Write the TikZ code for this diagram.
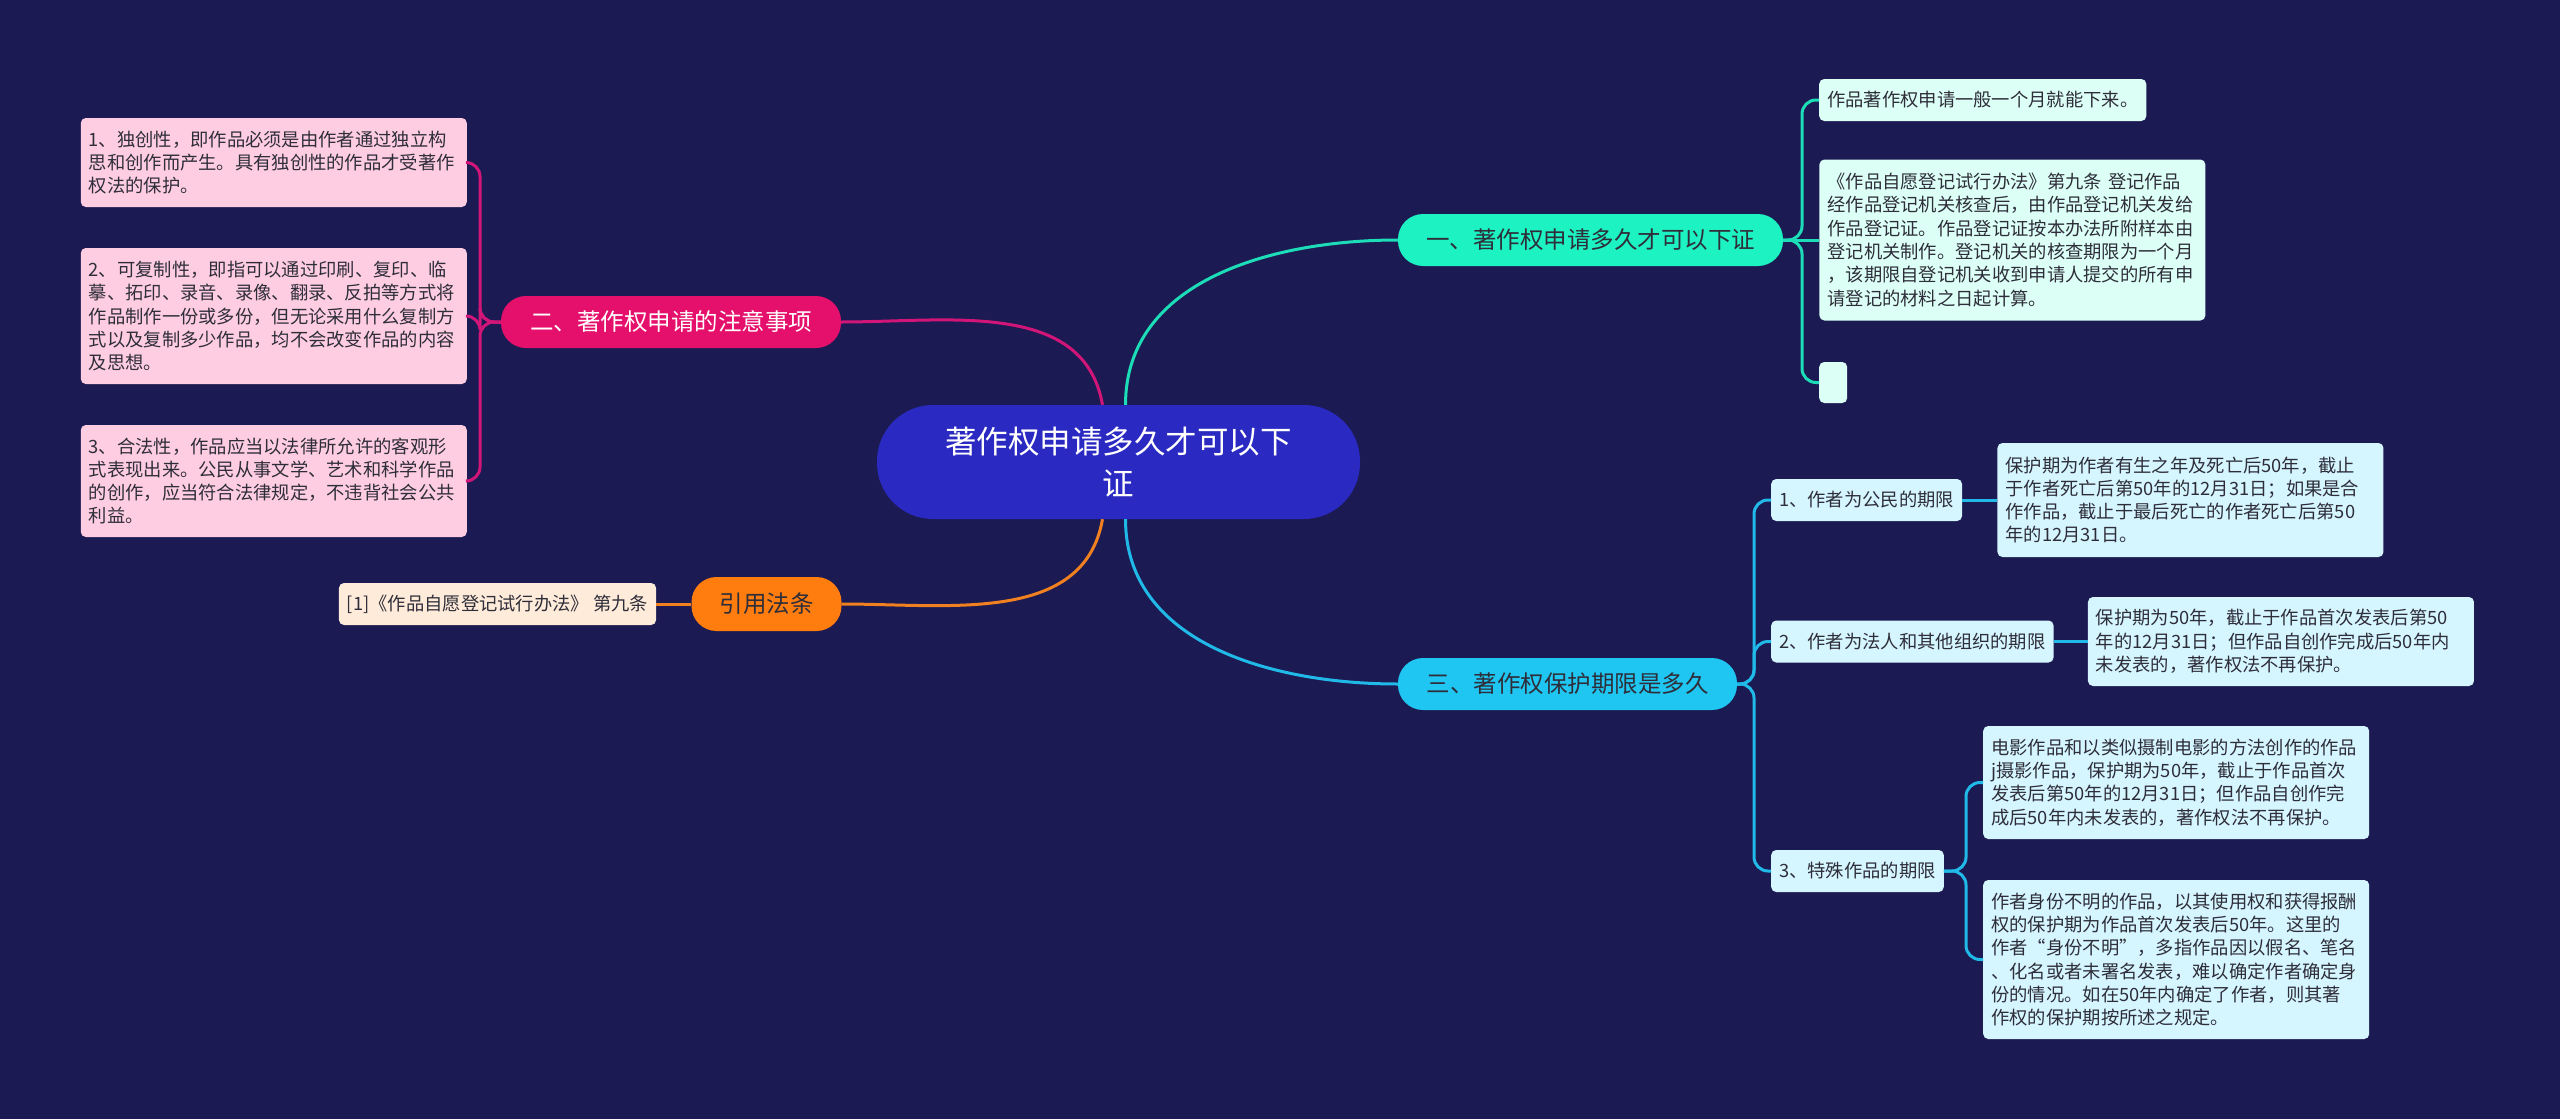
\documentclass[tikz,border=0pt]{standalone}
\usepackage{fontspec}
\newfontfamily\cjkfont{Noto Sans CJK SC}
\usepackage{tikz}
\usetikzlibrary{positioning,calc}
\definecolor{bgnavy}{HTML}{1B1A52}
\definecolor{rootblue}{HTML}{2A2AC2}
\definecolor{mintdark}{HTML}{1DF2C2}
\definecolor{mintlight}{HTML}{DCFFF6}
\definecolor{mintline}{HTML}{1DDDB8}
\definecolor{pinkdark}{HTML}{E5106B}
\definecolor{pinklight}{HTML}{FFCDE1}
\definecolor{pinkline}{HTML}{D21679}
\definecolor{cyandark}{HTML}{1FC6F1}
\definecolor{cyanlight}{HTML}{D6F6FF}
\definecolor{cyanline}{HTML}{20B9E8}
\definecolor{orangedark}{HTML}{FF7D0F}
\definecolor{orangelight}{HTML}{FFEBD9}
\definecolor{orangeline}{HTML}{F08020}
\definecolor{inkdark}{HTML}{2E2E3A}
\tikzset{
  rootbox/.style={
    rectangle, rounded corners=56pt, fill=rootblue, text=white,
    minimum width=483pt, minimum height=114pt, align=center,
    font=\cjkfont\fontsize{31.5}{42}\selectfont
  },
  brbox/.style 2 args={
    rectangle, rounded corners=25pt, fill=#1, text=#2,
    minimum height=52pt, inner xsep=20pt,
    font=\cjkfont\fontsize{23.5}{28}\selectfont
  },
  leaf/.style={
    rectangle, rounded corners=5pt, fill=#1, text=inkdark,
    inner xsep=8pt, inner ysep=6pt, minimum height=42pt,
    font=\cjkfont\fontsize{18.3}{23.3}\selectfont
  },
  para/.style={text width=370pt, align=left},
  link/.style={draw=#1, line width=3pt, rounded corners=14pt}
}

\begin{document}
\begin{tikzpicture}[x=1pt,y=1pt]
  \path[use as bounding box, fill=bgnavy] (0,0) rectangle (2560,-1119);

  \node[rootbox] (root) at (1118.5,-462)
    {著作权申请多久才可以下\\证};

  \node[brbox={mintdark}{inkdark}, minimum width=385pt] (apply) at (1590.5,-240)
    {一、著作权申请多久才可以下证};
  \node[brbox={pinkdark}{white}, minimum width=340pt] (notice) at (671,-322)
    {二、著作权申请的注意事项};
  \node[brbox={cyandark}{inkdark}, minimum width=339pt] (term) at (1567.5,-684)
    {三、著作权保护期限是多久};
  \node[brbox={orangedark}{inkdark}, minimum width=150pt, minimum height=54pt] (cite) at (766.5,-604)
    {引用法条};

  \node[leaf=mintlight, anchor=west] (month) at (1819,-100)
    {作品著作权申请一般一个月就能下来。};
  \node[leaf=mintlight, para, minimum height=161pt, right=36pt of apply] (rule9)
    {《作品自愿登记试行办法》第九条 登记作品\\
     经作品登记机关核查后，由作品登记机关发给\\
     作品登记证。作品登记证按本办法所附样本由\\
     登记机关制作。登记机关的核查期限为一个月\\
     ，该期限自登记机关收到申请人提交的所有申\\
     请登记的材料之日起计算。};
  \node[leaf=mintlight, minimum width=28pt, minimum height=41pt, inner xsep=0pt, anchor=west] (blank) at (1819,-382.5) {};

  \node[leaf=pinklight, para, minimum height=89pt, anchor=east] (orig) at (467,-162.5)
    {1、独创性，即作品必须是由作者通过独立构\\
     思和创作而产生。具有独创性的作品才受著作\\
     权法的保护。};
  \node[leaf=pinklight, para, minimum height=136pt, anchor=east] (copy) at (467,-316)
    {2、可复制性，即指可以通过印刷、复印、临\\
     摹、拓印、录音、录像、翻录、反拍等方式将\\
     作品制作一份或多份，但无论采用什么复制方\\
     式以及复制多少作品，均不会改变作品的内容\\
     及思想。};
  \node[leaf=pinklight, para, minimum height=112pt, anchor=east] (legal) at (467,-481)
    {3、合法性，作品应当以法律所允许的客观形\\
     式表现出来。公民从事文学、艺术和科学作品\\
     的创作，应当符合法律规定，不违背社会公共\\
     利益。};

  \node[leaf=orangelight, left=35pt of cite] (source)
    {[1]《作品自愿登记试行办法》 第九条};

  \node[leaf=cyanlight, anchor=west] (citizen) at (1771,-500)
    {1、作者为公民的期限};
  \node[leaf=cyanlight, para, minimum height=114pt, right=35pt of citizen] (citizentxt)
    {保护期为作者有生之年及死亡后50年，截止\\
     于作者死亡后第50年的12月31日；如果是合\\
     作作品，截止于最后死亡的作者死亡后第50\\
     年的12月31日。};
  \node[leaf=cyanlight, anchor=west] (legalp) at (1771,-641.5)
    {2、作者为法人和其他组织的期限};
  \node[leaf=cyanlight, para, minimum height=89pt, right=34pt of legalp] (legalptxt)
    {保护期为50年，截止于作品首次发表后第50\\
     年的12月31日；但作品自创作完成后50年内\\
     未发表的，著作权法不再保护。};
  \node[leaf=cyanlight, anchor=west] (special) at (1771,-871)
    {3、特殊作品的期限};
  \node[leaf=cyanlight, para, minimum height=113pt, anchor=west] (film) at (1983,-782.5)
    {电影作品和以类似摄制电影的方法创作的作品\\
     j摄影作品，保护期为50年，截止于作品首次\\
     发表后第50年的12月31日；但作品自创作完\\
     成后50年内未发表的，著作权法不再保护。};
  \node[leaf=cyanlight, para, minimum height=159pt, anchor=west] (anon) at (1983,-959.5)
    {作者身份不明的作品，以其使用权和获得报酬\\
     权的保护期为作品首次发表后50年。这里的\\
     作者“身份不明”，多指作品因以假名、笔名\\
     、化名或者未署名发表，难以确定作者确定身\\
     份的情况。如在50年内确定了作者，则其著\\
     作权的保护期按所述之规定。};

  \coordinate (r1) at ($(root.north)+(7,0)$);
  \coordinate (r2) at ($(root.north)+(-16,0)$);
  \coordinate (r3) at ($(root.south)+(7,0)$);
  \coordinate (r4) at ($(root.south)+(-16,0)$);
  \coordinate (j1) at (1802,-240);
  \coordinate (j2) at (480,-322);
  \coordinate (j3) at (1754,-684);
  \coordinate (j4) at (1966,-871);

  \draw[link=mintline] (r1) to[out=90,in=180] (apply.west);
  \draw[link=pinkline] (notice.east) to[out=0,in=100] (r2);
  \draw[link=cyanline] (r3) to[out=-90,in=180] (term.west);
  \draw[link=orangeline] (cite.east) to[out=0,in=-100] (r4);

  \draw[link=mintline] (apply.east) -- (j1) |- (month.west);
  \draw[link=mintline] (apply.east) -- (rule9.west);
  \draw[link=mintline] (apply.east) -- (j1) |- (blank.west);

  \draw[link=pinkline] (notice.west) -- (j2) |- (orig.east);
  \draw[link=pinkline] (notice.west) -- (j2) |- (copy.east);
  \draw[link=pinkline] (notice.west) -- (j2) |- (legal.east);

  \draw[link=orangeline] (cite.west) -- (source.east);

  \draw[link=cyanline] (term.east) -- (j3) |- (citizen.west);
  \draw[link=cyanline] (term.east) -- (j3) |- (legalp.west);
  \draw[link=cyanline] (term.east) -- (j3) |- (special.west);
  \draw[link=cyanline] (citizen.east) -- (citizentxt.west);
  \draw[link=cyanline] (legalp.east) -- (legalptxt.west);
  \draw[link=cyanline] (special.east) -- (j4) |- (film.west);
  \draw[link=cyanline] (special.east) -- (j4) |- (anon.west);
\end{tikzpicture}
\end{document}
